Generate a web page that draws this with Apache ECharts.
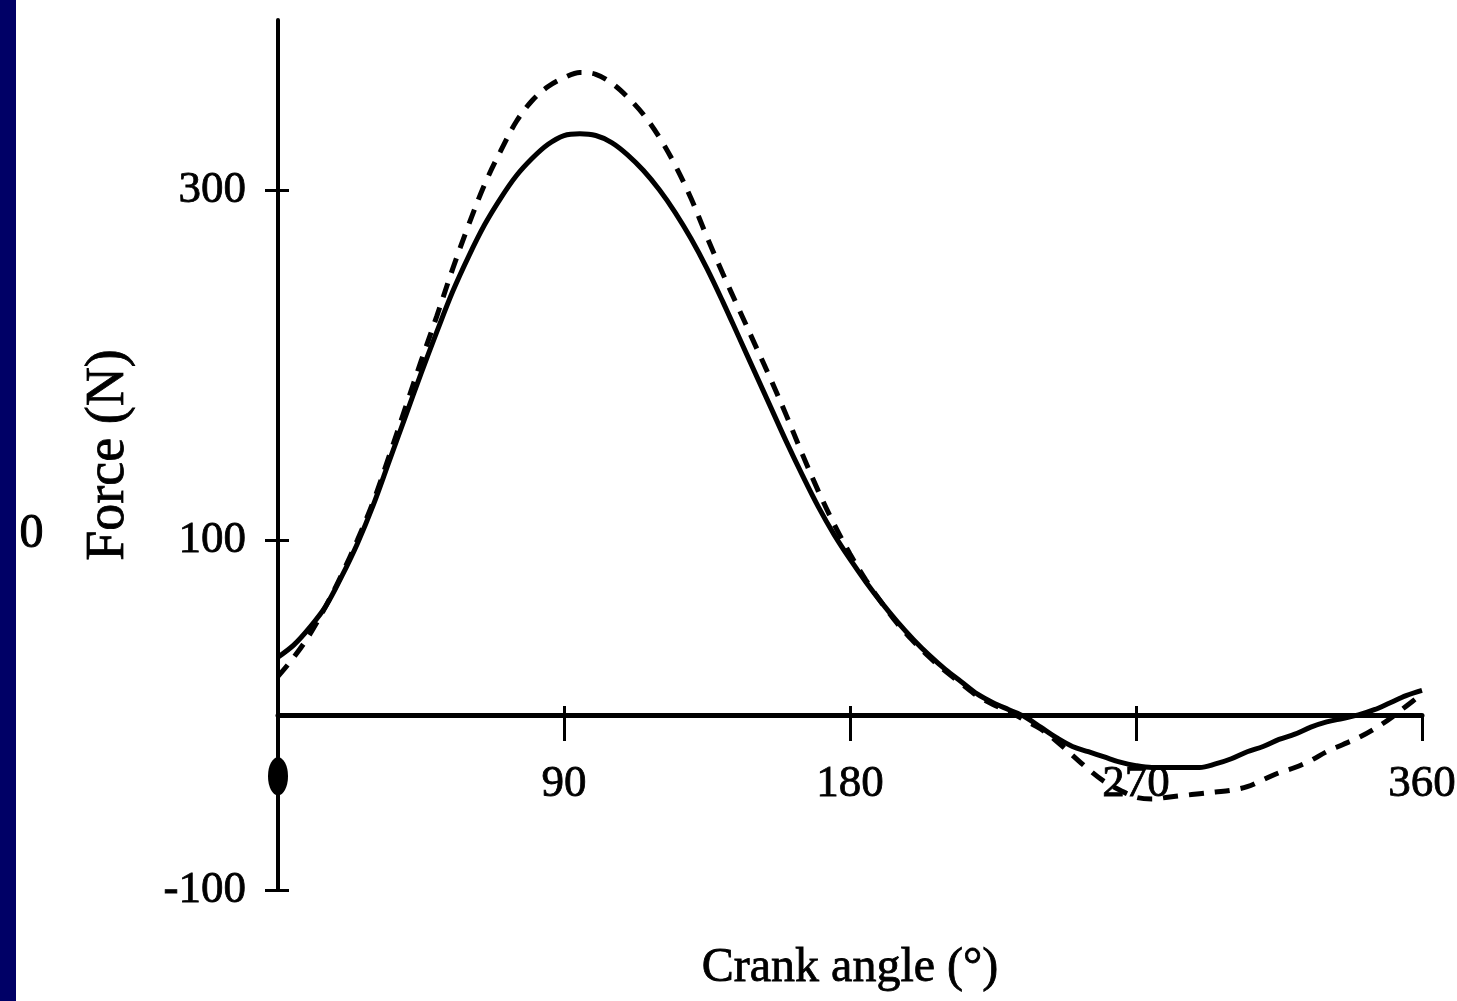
<!DOCTYPE html>
<html>
<head>
<meta charset="utf-8">
<script src="https://cdn.jsdelivr.net/npm/echarts@6/dist/echarts.min.js"></script>
<style>
  html, body { margin: 0; padding: 0; background: #ffffff; }
  #chart { width: 1457px; height: 1001px; }
</style>
</head>
<body>
<div id="chart"></div>
<script>
// Crank angle in degrees, sampled every 5 degrees over one revolution
var crankAngles = [0,5,10,15,20,25,30,35,40,45,50,55,60,65,70,75,80,85,90,95,100,105,110,115,120,125,130,135,140,145,150,155,160,165,170,175,180,185,190,195,200,205,210,215,220,225,230,235,240,245,250,255,260,265,270,275,280,285,290,295,300,305,310,315,320,325,330,335,340,345,350,355,360];

// Pedal force (N), solid trace
var forceSolid = [33,40,50,62,79,98,120,145,170,195,219,242,262,280,295,308,318,326,331,332,331,327,320,311,300,287,272,255,236,216,196,176,156,137,119,103,89,76,64,53,43,34,26,19,12,7,3,-1,-7,-13,-18,-21,-24,-27,-29,-30,-30,-30,-30,-28,-25,-21,-18,-14,-11,-7,-4,-2,0,3,7,11,14];

// Pedal force (N), dashed trace
var forceDashed = [22,33,46,62,80,100,122,148,175,202,228,255,280,303,322,339,351,359,364,367,366,361,353,343,330,314,295,273,252,232,212,192,171,149,128,109,92,77,64,52,42,33,25,18,11,6,2,-3,-8,-15,-23,-31,-38,-43,-47,-48,-47,-46,-45,-44,-43,-41,-37,-33,-30,-26,-21,-17,-13,-8,-2,5,12];

// Axis ticks and labels
var xTickValues = [90, 180, 270, 360];
var yTickValues = [-100, 100, 300];

function pairs(xs, ys) {
  return xs.map(function (x, i) { return [x, ys[i]]; });
}

var serif = '"Liberation Serif", "Times New Roman", serif';
var labelStyle = {
  color: '#000', fontFamily: serif, fontSize: 45,
  textBorderColor: '#000', textBorderWidth: 0.8
};

var chart = echarts.init(document.getElementById('chart'), null, { renderer: 'canvas' });

chart.setOption({
  backgroundColor: '#ffffff',
  animation: false,
  grid: { left: 278, right: 35, top: 20, bottom: 111, containLabel: false, outerBoundsMode: 'none' },
  xAxis: [
    {
      type: 'value', min: 0, max: 360, interval: 90,
      name: 'Crank angle (\u00b0)',
      nameLocation: 'middle', nameGap: 54,
      nameTextStyle: {
        color: '#000', fontFamily: serif, fontSize: 48,
        textBorderColor: '#000', textBorderWidth: 0.8
      },
      axisLine: { onZero: true, lineStyle: { color: '#000', width: 5 } },
      axisTick: { show: true, inside: false, length: 26, customValues: xTickValues,
        lineStyle: { color: '#000', width: 3 } },
      // labels sit just under the zero line, above the bottom of the plot area
      axisLabel: Object.assign({ margin: -128, customValues: [90, 180, 270, 360] }, labelStyle),
      splitLine: { show: false }
    },
    {
      type: 'value', min: 0, max: 360, interval: 90, position: 'bottom',
      axisLine: { show: false, onZero: true },
      axisTick: { show: true, inside: true, length: 9, customValues: [90, 180, 270],
        lineStyle: { color: '#000', width: 3 } },
      axisLabel: { show: false },
      splitLine: { show: false }
    }
  ],
  yAxis: [
    {
      type: 'value', min: -100, max: 397, interval: 200,
      name: 'Force (N)',
      nameLocation: 'middle', nameGap: 142, nameRotate: 90,
      nameTextStyle: {
        color: '#000', fontFamily: serif, fontSize: 54,
        textBorderColor: '#000', textBorderWidth: 0.8
      },
      axisLine: { show: true, onZero: false, lineStyle: { color: '#000', width: 4 } },
      axisTick: { show: true, inside: false, length: 13, customValues: yTickValues,
        lineStyle: { color: '#000', width: 3 } },
      axisLabel: Object.assign({
        margin: 32, customValues: yTickValues,
        formatter: function (v) { return v < 0 ? '-' + Math.abs(v) : String(v); }
      }, labelStyle),
      splitLine: { show: false }
    },
    {
      type: 'value', min: -100, max: 397, interval: 200, position: 'left',
      axisLine: { show: false, onZero: false },
      axisTick: { show: true, inside: true, length: 11, customValues: yTickValues,
        lineStyle: { color: '#000', width: 3 } },
      axisLabel: { show: false },
      splitLine: { show: false }
    }
  ],
  series: [
    {
      name: 'dashed',
      type: 'line',
      data: pairs(crankAngles, forceDashed),
      smooth: 0.35,
      symbol: 'none',
      clip: false,
      lineStyle: { color: '#000', width: 5, type: [15, 11] },
      z: 3
    },
    {
      name: 'solid',
      type: 'line',
      data: pairs(crankAngles, forceSolid),
      smooth: 0.35,
      symbol: 'none',
      clip: false,
      lineStyle: { color: '#000', width: 5 },
      z: 4
    },
    {
      name: 'origin marker',
      type: 'scatter',
      data: [[0, -35]],
      symbol: 'circle',
      symbolSize: [20, 38],
      clip: false,
      itemStyle: { color: '#000', opacity: 1 },
      silent: true,
      z: 5
    }
  ],
  graphic: [
    {
      type: 'text', left: 19, top: 510, z: 1,
      style: { text: '0', fill: '#000', font: '48px "Liberation Serif"', stroke: '#000', lineWidth: 1 }
    },
    {
      type: 'rect', left: 0, top: 0, z: 10,
      shape: { width: 16, height: 1001 },
      style: { fill: '#000066' }
    }
  ]
});
</script>
</body>
</html>
